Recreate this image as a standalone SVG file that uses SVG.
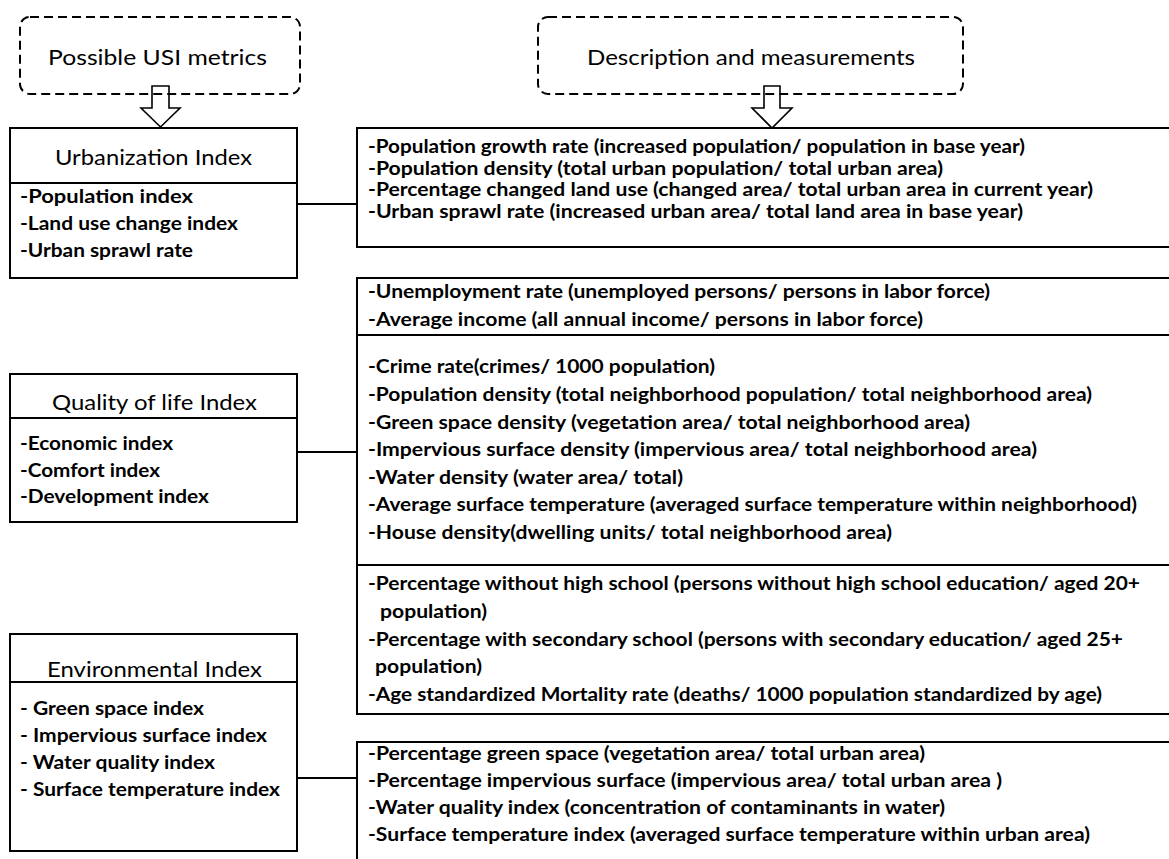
<svg xmlns="http://www.w3.org/2000/svg" width="1169" height="859" viewBox="0 0 1169 859">
<style>
.bg{fill:#fff}
.dash{fill:none;stroke:#000;stroke-width:2;stroke-dasharray:9 5}
.box{fill:none;stroke:#000;stroke-width:2}
.ln{fill:none;stroke:#000;stroke-width:2}
.arr{fill:#fff;stroke:#000;stroke-width:1.6;stroke-linejoin:miter}
.t{font-family:Lato,"Liberation Sans",sans-serif;font-size:21px;fill:#000}
.i{font-family:Lato,"Liberation Sans",sans-serif;font-size:18px;font-weight:700;fill:#000}
</style>
<rect class="bg" x="0" y="0" width="1169" height="859"/>
<g id="header-metrics">
<rect class="dash" x="20" y="17" width="280" height="77" rx="10"/>
<text class="t" x="48" y="65" textLength="219" lengthAdjust="spacingAndGlyphs">Possible USI metrics</text>
</g>
<g id="header-description">
<rect class="dash" x="538" y="17" width="425" height="77" rx="10"/>
<text class="t" x="587" y="65" textLength="328" lengthAdjust="spacingAndGlyphs">Description and measurements</text>
</g>
<g id="arrows">
<polygon class="arr" points="152,86 169,86 169,108 180,108 160.5,127 141,108 152,108" fill-opacity="0"/>
<polygon class="arr" points="764,86 780,86 780,108 792,108 772,128 752,108 764,108" fill-opacity="0"/>
</g>
<g id="connectors">
<line class="ln" x1="297" y1="204" x2="357" y2="204"/>
<line class="ln" x1="297" y1="452" x2="357" y2="452"/>
<line class="ln" x1="297" y1="778" x2="357" y2="778"/>
</g>
<g id="urbanization-index">
<rect class="box" x="10" y="128" width="287" height="150"/>
<line class="ln" x1="10" y1="183" x2="297" y2="183"/>
<text class="t" x="55" y="165" textLength="197" lengthAdjust="spacingAndGlyphs">Urbanization Index</text>
<text class="i" x="20" y="203" textLength="173" lengthAdjust="spacingAndGlyphs">-Population index</text>
<text class="i" x="20" y="230" textLength="218" lengthAdjust="spacingAndGlyphs">-Land use change index</text>
<text class="i" x="20" y="257" textLength="173" lengthAdjust="spacingAndGlyphs">-Urban sprawl rate</text>
</g>
<g id="quality-of-life-index">
<rect class="box" x="10" y="374" width="287" height="148"/>
<line class="ln" x1="10" y1="418" x2="297" y2="418"/>
<text class="t" x="52" y="410" textLength="205" lengthAdjust="spacingAndGlyphs">Quality of life Index</text>
<text class="i" x="20" y="450" textLength="153" lengthAdjust="spacingAndGlyphs">-Economic index</text>
<text class="i" x="20" y="477" textLength="140" lengthAdjust="spacingAndGlyphs">-Comfort index</text>
<text class="i" x="20" y="503" textLength="189" lengthAdjust="spacingAndGlyphs">-Development index</text>
</g>
<g id="environmental-index">
<rect class="box" x="10" y="634" width="287" height="217"/>
<line class="ln" x1="10" y1="682" x2="297" y2="682"/>
<text class="t" x="47" y="677" textLength="215" lengthAdjust="spacingAndGlyphs">Environmental Index</text>
<text class="i" x="20" y="715" textLength="184" lengthAdjust="spacingAndGlyphs">- Green space index</text>
<text class="i" x="20" y="742" textLength="247" lengthAdjust="spacingAndGlyphs">- Impervious surface index</text>
<text class="i" x="20" y="769" textLength="195" lengthAdjust="spacingAndGlyphs">- Water quality index</text>
<text class="i" x="20" y="796" textLength="260" lengthAdjust="spacingAndGlyphs">- Surface temperature index</text>
</g>
<g id="urbanization-description">
<rect class="box" x="357" y="128" width="830" height="119"/>
<text class="i" x="368" y="153" textLength="657" lengthAdjust="spacingAndGlyphs">-Population growth rate (increased population/ population in base year)</text>
<text class="i" x="368" y="175" textLength="575" lengthAdjust="spacingAndGlyphs">-Population density (total urban population/ total urban area)</text>
<text class="i" x="368" y="196" textLength="725" lengthAdjust="spacingAndGlyphs">-Percentage changed land use (changed area/ total urban area in current year)</text>
<text class="i" x="368" y="218" textLength="655" lengthAdjust="spacingAndGlyphs">-Urban sprawl rate (increased urban area/ total land area in base year)</text>
</g>
<g id="quality-description">
<rect class="box" x="357" y="278" width="830" height="436"/>
<line class="ln" x1="357" y1="335" x2="1169" y2="335"/>
<line class="ln" x1="357" y1="565" x2="1169" y2="565"/>
<text class="i" x="368" y="298" textLength="622" lengthAdjust="spacingAndGlyphs">-Unemployment rate (unemployed persons/ persons in labor force)</text>
<text class="i" x="368" y="326" textLength="555" lengthAdjust="spacingAndGlyphs">-Average income (all annual income/ persons in labor force)</text>
<text class="i" x="368" y="373" textLength="347" lengthAdjust="spacingAndGlyphs">-Crime rate(crimes/ 1000 population)</text>
<text class="i" x="368" y="401" textLength="724" lengthAdjust="spacingAndGlyphs">-Population density (total neighborhood population/ total neighborhood area)</text>
<text class="i" x="368" y="429" textLength="602" lengthAdjust="spacingAndGlyphs">-Green space density (vegetation area/ total neighborhood area)</text>
<text class="i" x="368" y="456" textLength="669" lengthAdjust="spacingAndGlyphs">-Impervious surface density (impervious area/ total neighborhood area)</text>
<text class="i" x="368" y="484" textLength="315" lengthAdjust="spacingAndGlyphs">-Water density (water area/ total)</text>
<text class="i" x="368" y="511" textLength="769" lengthAdjust="spacingAndGlyphs">-Average surface temperature (averaged surface temperature within neighborhood)</text>
<text class="i" x="368" y="539" textLength="524" lengthAdjust="spacingAndGlyphs">-House density(dwelling units/ total neighborhood area)</text>
<text class="i" x="368" y="590" textLength="772" lengthAdjust="spacingAndGlyphs">-Percentage without high school (persons without high school education/ aged 20+</text>
<text class="i" x="380" y="618" textLength="107" lengthAdjust="spacingAndGlyphs">population)</text>
<text class="i" x="368" y="646" textLength="755" lengthAdjust="spacingAndGlyphs">-Percentage with secondary school (persons with secondary education/ aged 25+</text>
<text class="i" x="375" y="673" textLength="107" lengthAdjust="spacingAndGlyphs">population)</text>
<text class="i" x="368" y="701" textLength="734" lengthAdjust="spacingAndGlyphs">-Age standardized Mortality rate (deaths/ 1000 population standardized by age)</text>
</g>
<g id="environmental-description">
<rect class="box" x="357" y="742" width="830" height="140"/>
<text class="i" x="368" y="760" textLength="557" lengthAdjust="spacingAndGlyphs">-Percentage green space (vegetation area/ total urban area)</text>
<text class="i" x="368" y="787" textLength="634" lengthAdjust="spacingAndGlyphs">-Percentage impervious surface (impervious area/ total urban area )</text>
<text class="i" x="368" y="814" textLength="577" lengthAdjust="spacingAndGlyphs">-Water quality index (concentration of contaminants in water)</text>
<text class="i" x="368" y="841" textLength="722" lengthAdjust="spacingAndGlyphs">-Surface temperature index (averaged surface temperature within urban area)</text>
</g>
</svg>
